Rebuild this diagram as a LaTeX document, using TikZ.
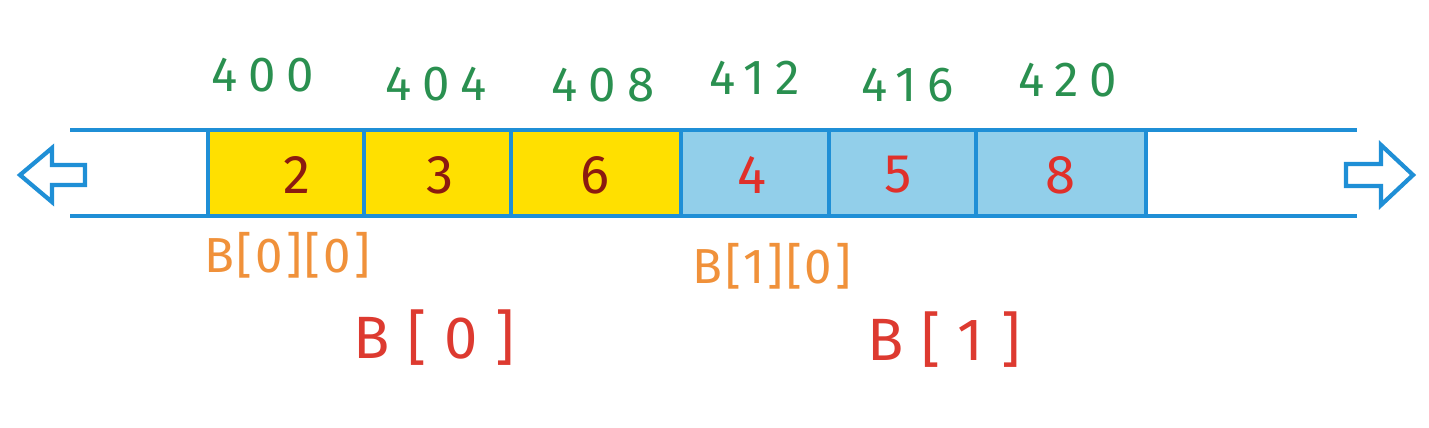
\documentclass[tikz,border=0pt]{standalone}
\usepackage{fontspec}
\setmainfont{Fira Sans}
\usetikzlibrary{positioning}
\definecolor{wire}{HTML}{1F8FD6}
\definecolor{cellY}{HTML}{FFE000}
\definecolor{cellB}{HTML}{92CFEA}
\definecolor{addr}{HTML}{2A9050}
\definecolor{idxO}{HTML}{F0913A}
\definecolor{idxR}{HTML}{DD3A30}
\definecolor{valD}{HTML}{8B1A10}
\definecolor{valR}{HTML}{E0302A}
\begin{document}
\begin{tikzpicture}[x=0.02cm,y=-0.02cm]
\tikzset{wire/.style={draw=wire,line width=2.6pt},
  val/.style={font=\fontsize{31}{33}\selectfont,inner sep=0pt},
  addrlbl/.style={font=\fontsize{28}{30}\selectfont\addfontfeature{LetterSpace=22},text=addr,inner sep=0pt},
  idx/.style={font=\fontsize{28}{30}\selectfont\addfontfeature{LetterSpace=6},inner sep=0pt},
  arr/.style={font=\fontsize{34}{36}\selectfont\addfontfeature{LetterSpace=30},inner sep=0pt},
  hollow/.style={draw=wire,line width=2.4pt,fill=white,line join=miter}}
\useasboundingbox (0,0) rectangle (1429,428);

% cells of the array
\foreach \xa/\xb/\xv/\v/\fc/\tc/\n in {208/364/297/2/cellY/valD/a,364/511/440/3/cellY/valD/b,
  511/681/595/6/cellY/valD/c,681/829/752/4/cellB/valR/d,829/976/898/5/cellB/valR/e,
  976/1146/1060/8/cellB/valR/f}{
  \fill[\fc] (\xa,130) rectangle (\xb,216);
  \node[val,text=\tc] (v\n) at (\xv,175) {\v};
}
\foreach \xd in {208,364,511,681,829,976,1146}
  \draw[wire] (\xd,130) -- (\xd,216);

% memory strip
\coordinate (tl) at (70,130);
\coordinate (tr) at (1357,130);
\coordinate (bl) at (70,216);
\coordinate (br) at (1357,216);
\draw[wire] (tl) -- (tr);
\draw[wire] (bl) -- (br);

% hollow arrows
\draw[hollow] (20,175) -- (52,148) -- (52,165) -- (85,165) -- (85,185) -- (52,185) -- (52,202) -- cycle;
\draw[hollow] (1413,175) -- (1381,145) -- (1381,164) -- (1346,164) -- (1346,186) -- (1381,186) -- (1381,205) -- cycle;

% addresses
\node[addrlbl] (a400) at (263,75) {400};
\node[addrlbl] (a404) at (436,84) {404};
\node[addrlbl] (a408) at (603,85) {408};
\node[addrlbl] (a412) at (755,78) {412};
\node[addrlbl] (a416) at (908,85) {416};
\node[addrlbl] (a420) at (1068,80) {420};

% indices
\node[idx,text=idxO] (b00) at (287,255) {B[0][0]};
\node[idx,text=idxO] (b10) at (772,266) {B[1][0]};
\node[arr,text=idxR] (b0) at (434,338) {B[0]};
\node[arr,text=idxR] (b1) at (944,340) {B[1]};
\end{tikzpicture}
\end{document}
